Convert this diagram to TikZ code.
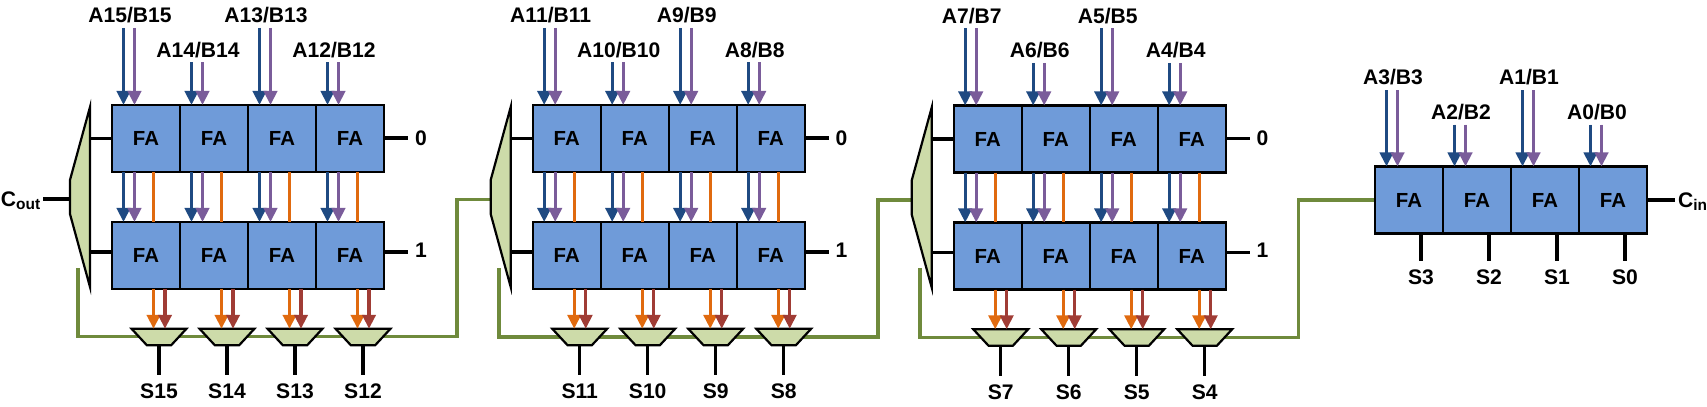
\documentclass[tikz,border=0pt]{standalone}
\usepackage{fontspec}
\setmainfont{Liberation Sans}
\usetikzlibrary{arrows.meta,backgrounds,positioning,shapes.geometric}
\definecolor{faFill}{HTML}{6F9BD9}
\definecolor{muxFill}{HTML}{CDDBA9}
\definecolor{wireGreen}{HTML}{6F8A3C}
\definecolor{inputBlue}{HTML}{1F4A82}
\definecolor{inputPurple}{HTML}{7A5C9A}
\definecolor{carryOrange}{HTML}{E06A0F}
\definecolor{sumRed}{HTML}{A03C35}
\newcommand{\labelFont}{\fontsize{15pt}{17pt}\selectfont\bfseries}
\newcommand{\faFont}{\fontsize{14.5pt}{17pt}\selectfont\bfseries}
\newcommand{\blueShift}{-.5625cm}
\newcommand{\purpleShift}{-.2875cm}
\newcommand{\orangeShift}{.1875cm}
\newcommand{\redShift}{.475cm}
\newcommand{\muxShift}{.325cm}
\tikzstyle{adderLayout} = [x=.025cm, y=-.025cm]
\tikzstyle{faBox} = [draw=black, line width=.055cm, fill=faFill, minimum width=1.7cm, minimum height=1.675cm, inner sep=0, outer sep=0, font=\faFont]
\tikzstyle{muxBase} = [draw=black, line width=.055cm, fill=muxFill, trapezium, trapezium stretches=true, inner sep=1pt, outer sep=0]
\tikzstyle{sumMux} = [muxBase, shape border rotate=180, trapezium left angle=58, trapezium right angle=58, minimum width=1.37cm, minimum height=.41cm]
\tikzstyle{stageMux} = [muxBase, shape border rotate=90, trapezium left angle=25, trapezium right angle=25, minimum width=4.5cm, minimum height=.5cm]
\tikzstyle{bitLabel} = [font=\labelFont, inner sep=0, outer sep=0]
\tikzstyle{signalLine} = [draw=black, line width=.08cm]
\tikzstyle{carryWire} = [draw=wireGreen, line width=.085cm]
\tikzstyle{busArrow} = [line width=.085cm, -{Triangle[width=.33cm,length=.35cm]}]
\tikzstyle{aArrow} = [busArrow, draw=inputBlue, fill=inputBlue]
\tikzstyle{bArrow} = [busArrow, draw=inputPurple, fill=inputPurple]
\tikzstyle{cArrow} = [busArrow, draw=carryOrange, fill=carryOrange]
\tikzstyle{sArrow} = [busArrow, draw=sumRed, fill=sumRed]
\tikzstyle{cLine} = [draw=carryOrange, line width=.085cm]
\newcommand{\faRow}[4]{
  \foreach \column in {0,...,3} {
    \node [faBox] (fa#1#2\column) at (#3 + 68*\column + 34, #4) {FA};
  }
}
\newcommand{\faInputs}[4]{
  \foreach \column/\bit in {#4} {
    \pgfmathsetmacro{\labelBase}{#3 + 34.5*mod(\column,2)}
    \node [bitLabel, anchor=base] (in#1\column) at (#2 + 68*\column + 18, \labelBase) {A\bit/B\bit};
    \coordinate (inA#1\column) at (#2 + 68*\column + 11.5, \labelBase + 5);
    \coordinate (inB#1\column) at (#2 + 68*\column + 22.5, \labelBase + 5);
    \draw [aArrow] (inA#1\column) -- (inA#1\column |- fa#1t\column.north);
    \draw [bArrow] (inB#1\column) -- (inB#1\column |- fa#1t\column.north);
  }
}
\newcommand{\faStage}[4]{
  \faRow{#1}{t}{#2}{#3 + 138.5}
  \faRow{#1}{b}{#2}{#3 + 255.5}
  \faInputs{#1}{#2}{#3 + 23}{#4}
  \node [stageMux] (mux#1) at (#2 - 32, #3 + 197) {};
  \coordinate (selT#1) at (fa#1t0.west);
  \coordinate (selB#1) at ([yshift=.0875cm]fa#1b0.west);
  \coordinate (outT#1) at (#2 + 296, #3 + 138);
  \coordinate (outB#1) at (#2 + 296, #3 + 252);
  \draw [signalLine] (selT#1 -| mux#1.east) -- (selT#1);
  \draw [signalLine] (selB#1 -| mux#1.east) -- (selB#1);
  \draw [signalLine] (fa#1t3.east |- outT#1) -- (outT#1);
  \draw [signalLine] (fa#1b3.east |- outB#1) -- (outB#1);
  \node [bitLabel, right=.175cm of outT#1] (zero#1) {0};
  \node [bitLabel, right=.175cm of outB#1, yshift=.05cm] (one#1) {1};
  \foreach \column/\bit in {#4} {
    \draw [aArrow] ([xshift=\blueShift]fa#1t\column.south) -- ([xshift=\blueShift]fa#1b\column.north);
    \draw [bArrow] ([xshift=\purpleShift]fa#1t\column.south) -- ([xshift=\purpleShift]fa#1b\column.north);
    \draw [cLine] ([xshift=\orangeShift]fa#1t\column.south) -- ([xshift=\orangeShift]fa#1b\column.north);
    \node [sumMux] (sm#1\column) at ([xshift=\muxShift]fa#1b\column.south |- 0,#3 + 337) {};
    \draw [cArrow] ([xshift=\orangeShift]fa#1b\column.south) -- ([xshift=\orangeShift]fa#1b\column.south |- sm#1\column.north);
    \draw [sArrow] ([xshift=\redShift]fa#1b\column.south) -- ([xshift=\redShift]fa#1b\column.south |- sm#1\column.north);
    \coordinate (sEnd#1\column) at (sm#1\column.south |- 0,#3 + 375);
    \draw [signalLine] (sm#1\column.south) -- (sEnd#1\column);
    \node [bitLabel, below=.225cm of sEnd#1\column] (sum#1\column) {S\bit};
  }
}
\begin{document}
\begin{tikzpicture}[adderLayout]
  \useasboundingbox (0,0) rectangle (1707,407);
  \faStage{1}{112}{0}{0/15,1/14,2/13,3/12}
  \faStage{2}{532.7}{0}{0/11,1/10,2/9,3/8}
  \faStage{3}{953.7}{.5}{0/7,1/6,2/5,3/4}

  % last stage has one row only
  \faRow{4}{t}{1375}{200}
  \faInputs{4}{1375}{85}{0/3,1/2,2/1,3/0}
  \foreach \column/\bit in {0/3,1/2,2/1,3/0} {
    \coordinate (sEnd4\column) at ([xshift=.3cm]fa4t\column.south |- 0,261);
    \draw [signalLine] (sEnd4\column |- fa4t\column.south) -- (sEnd4\column);
    \node [bitLabel, below=.225cm of sEnd4\column] (sum4\column) {S\bit};
  }

  \coordinate (coutEnd) at (43,199);
  \node [bitLabel, anchor=base west] (cout) at (1,206) {C\raisebox{-.3ex}{\fontsize{11pt}{12pt}\selectfont out}};
  \draw [signalLine] (coutEnd) -- (coutEnd -| mux1.west);
  \coordinate (cinEnd) at (1675,200);
  \node [bitLabel, anchor=base west] (cin) at (1678,207) {C\raisebox{-.3ex}{\fontsize{11pt}{12pt}\selectfont in}};
  \draw [signalLine] (fa4t3.east) -- (cinEnd);

  \begin{scope}[on background layer]
    \coordinate (carry2) at (500,199.5);
    \coordinate (carry3) at (920,200);
    \coordinate (start1) at (78,268);
    \coordinate (start2) at (499,268);
    \coordinate (start3) at (920,268);
    \draw [carryWire] (start1) |- (457,336.5) |- (carry2);
    \draw [carryWire] (start2) |- (878,337) |- (carry3);
    \draw [carryWire] (start3) |- (1298.5,337.5) |- (fa4t0.west);
  \end{scope}
\end{tikzpicture}
\end{document}
